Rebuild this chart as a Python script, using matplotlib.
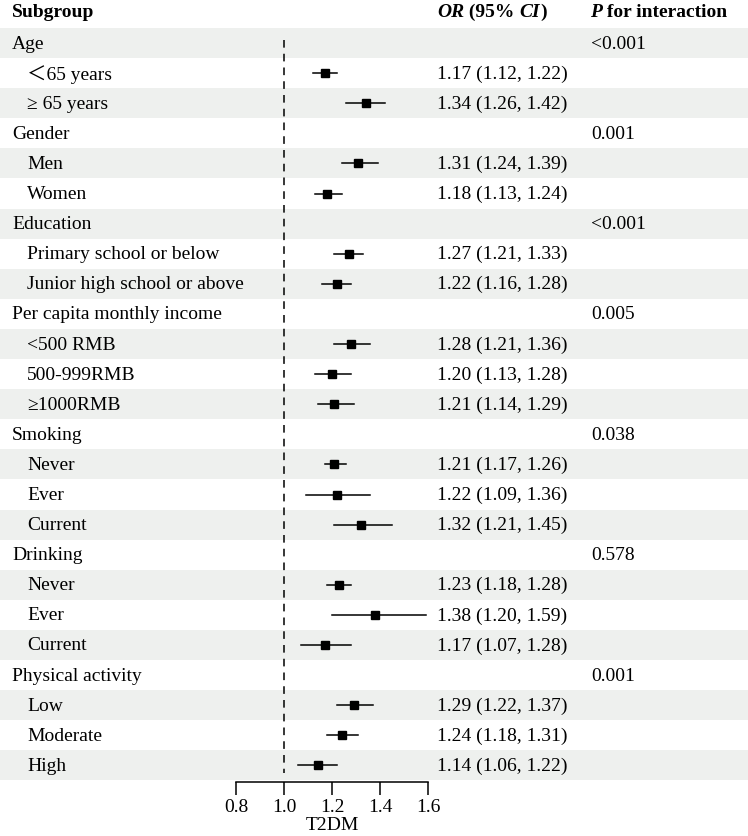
"""Forest plot of T2DM odds ratios by subgroup."""
import matplotlib
matplotlib.use('Agg')
import matplotlib.pyplot as plt

plt.rcParams['font.family'] = ['Liberation Serif', 'Noto Sans CJK SC']

# Data
groups = ['Age', 'Gender', 'Education', 'Per capita monthly income',
          'Smoking', 'Drinking', 'Physical activity']
subgroups = [
    ['\uff1c65 years', '\u2265 65 years'],
    ['Men', 'Women'],
    ['Primary school or below', 'Junior high school or above'],
    ['<500 RMB', '500-999RMB', '\u22651000RMB'],
    ['Never', 'Ever', 'Current'],
    ['Never', 'Ever', 'Current'],
    ['Low', 'Moderate', 'High'],
]
or_vals = [[1.17, 1.34], [1.31, 1.18], [1.27, 1.22], [1.28, 1.20, 1.21],
           [1.21, 1.22, 1.32], [1.23, 1.38, 1.17], [1.29, 1.24, 1.14]]
ci_low = [[1.12, 1.26], [1.24, 1.13], [1.21, 1.16], [1.21, 1.13, 1.14],
          [1.17, 1.09, 1.21], [1.18, 1.20, 1.07], [1.22, 1.18, 1.06]]
ci_high = [[1.22, 1.42], [1.39, 1.24], [1.33, 1.28], [1.36, 1.28, 1.29],
           [1.26, 1.36, 1.45], [1.28, 1.59, 1.28], [1.37, 1.31, 1.22]]
p_inter = ['<0.001', '0.001', '<0.001', '0.005', '0.038', '0.578', '0.001']

W, H = 748, 837
row_h = 30.1
y0 = 44          # pixel centre of first row
fs = 14
shade = '#EEF0EE'

fig = plt.figure(figsize=(W / 100, H / 100), dpi=100)

# background axes in (pixel x, row units y)
bg = fig.add_axes([0, 0, 1, 1])
bg.set_xlim(0, W)
bg.set_ylim((H - y0) / row_h, -y0 / row_h)
bg.axis('off')

# flatten rows
rows = []
for g, subs, o, lo, hi, p in zip(groups, subgroups, or_vals, ci_low, ci_high, p_inter):
    rows.append(dict(label=g, kind='group', p=p))
    for s, ov, l, h in zip(subs, o, lo, hi):
        rows.append(dict(label=s, kind='sub', est=ov, lo=l, hi=h))

for i, r in enumerate(rows):
    if i % 2 == 0:
        bg.axhspan(i - 0.5, i + 0.5, color=shade, lw=0, zorder=0)
    if r['kind'] == 'group':
        bg.text(12, i, r['label'], fontsize=fs, va='center', ha='left')
        bg.text(591, i, r['p'], fontsize=fs, va='center', ha='left')
    else:
        bg.text(27, i, r['label'], fontsize=fs, va='center', ha='left')
        bg.text(437, i, f"{r['est']:.2f} ({r['lo']:.2f}, {r['hi']:.2f})",
                fontsize=fs, va='center', ha='left')

# header
hy = -1.05
bg.text(12, hy, 'Subgroup', fontsize=fs, fontweight='bold', va='center')
t = bg.text(437, hy, 'OR', fontsize=fs, fontweight='bold', style='italic', va='center')
t = bg.annotate(' (95% ', xy=(1, 0), xycoords=t, fontsize=fs, fontweight='bold', va='bottom')
t = bg.annotate('CI', xy=(1, 0), xycoords=t, fontsize=fs, fontweight='bold', style='italic', va='bottom')
bg.annotate(')', xy=(1, 0), xycoords=t, fontsize=fs, fontweight='bold', va='bottom')
t = bg.text(590, hy, 'P', fontsize=fs, fontweight='bold', style='italic', va='center')
bg.annotate(' for interaction', xy=(1, 0), xycoords=t, fontsize=fs, fontweight='bold', va='bottom')

# forest axes
left, right = 236, 428
top_px, bot_px = y0 - row_h / 2, 783
ax = fig.add_axes([left / W, (H - bot_px) / H, (right - left) / W, (bot_px - top_px) / H])
ax.set_facecolor('none')
ax.set_xlim(0.8, 1.6)
ax.set_ylim((bot_px - y0) / row_h, -0.5)

for i, r in enumerate(rows):
    if r['kind'] != 'sub':
        continue
    ax.plot([r['lo'], r['hi']], [i, i], color='black', lw=1.1, clip_on=False)
    ax.plot(r['est'], i, 's', color='black', ms=6, clip_on=False)

ax.plot([1.0, 1.0], [-0.1, len(rows) - 0.75], color='black', lw=1.1,
        ls=(0, (5, 4)), clip_on=False)

for s in ['top', 'right', 'left']:
    ax.spines[s].set_visible(False)
ax.spines['bottom'].set_linewidth(1.1)
ax.set_yticks([])
ax.set_xticks([0.8, 1.0, 1.2, 1.4, 1.6])
ax.set_xticklabels(['0.8', '1.0', '1.2', '1.4', '1.6'], fontsize=fs)
ax.tick_params(axis='x', length=9, width=1.1, pad=2.5)
ax.set_xlabel('T2DM', fontsize=fs, labelpad=1)

fig.savefig('out.png', dpi=100)
